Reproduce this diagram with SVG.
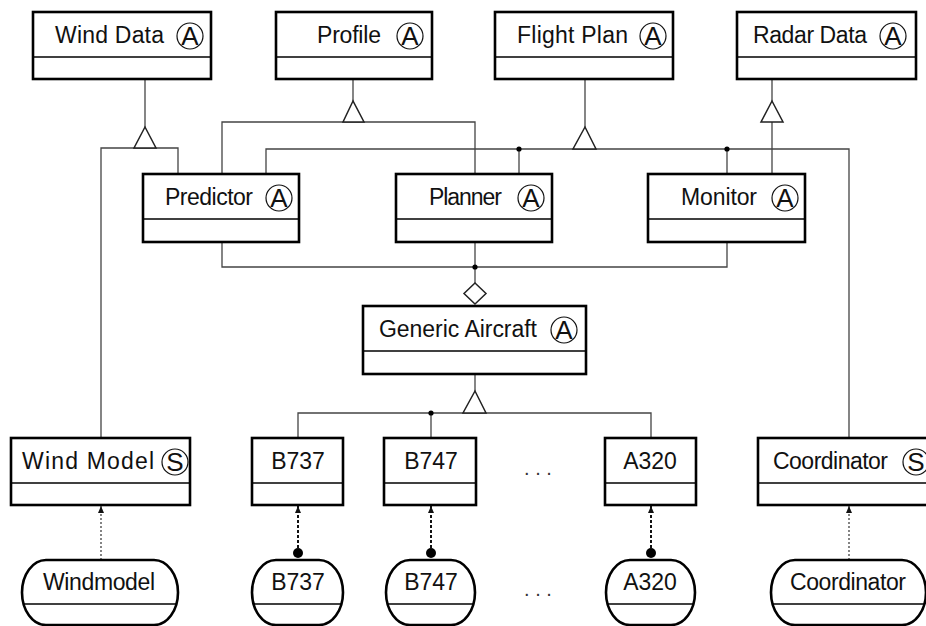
<svg xmlns="http://www.w3.org/2000/svg" width="926" height="626" viewBox="0 0 926 626">
<defs>
<style>
.box{fill:#fff;stroke:#000;stroke-width:2.6}
.div{stroke:#000;stroke-width:1.4}
.t{font-family:"Liberation Sans",Arial,sans-serif;font-size:23px;fill:#111}
.c{fill:none;stroke:#111;stroke-width:1.2}
.cl{font-family:"Liberation Sans",Arial,sans-serif;font-size:26px;fill:#111;text-anchor:middle}
.ln{fill:none;stroke:#444;stroke-width:1.3}
.tri{fill:#fff;stroke:#222;stroke-width:1.5}
.dot{fill:#000}
.dep{fill:none;stroke:#333;stroke-width:1.2;stroke-dasharray:2 2}
.dep2{fill:none;stroke:#111;stroke-width:2;stroke-dasharray:3 2}
.dots{font-family:"Liberation Sans",Arial,sans-serif;font-size:20px;fill:#333;text-anchor:middle}
</style>
<marker id="ah" viewBox="0 0 7 6" refX="7" refY="3" markerWidth="7" markerHeight="6" markerUnits="userSpaceOnUse" orient="auto">
<path d="M0,0 L7,3 L0,6 Z" fill="#111"/>
</marker>
</defs>

<g id="connectors">
<path class="ln" d="M145,79 V127"/>
<path class="ln" d="M101,438 V148 H178 V174"/>
<polygon class="tri" points="145,127 134,148 156,148"/>
<path class="ln" d="M353,79 V101"/>
<path class="ln" d="M222,174 V122 H475 V174"/>
<polygon class="tri" points="353,101 343,122 364,122"/>
<path class="ln" d="M585,79 V127"/>
<path class="ln" d="M266,174 V149 H849 V438"/>
<path class="ln" d="M519,149 V174"/>
<path class="ln" d="M727,149 V174"/>
<circle class="dot" cx="519" cy="149" r="2.6"/>
<circle class="dot" cx="727" cy="149" r="2.6"/>
<polygon class="tri" points="585,127 573,149 596,149"/>
<path class="ln" d="M772,79 V101"/>
<path class="ln" d="M772,122 V174"/>
<polygon class="tri" points="772,101 761,122 783,122"/>
<path class="ln" d="M222,242 V267 H727 V242"/>
<path class="ln" d="M475,242 V283"/>
<circle class="dot" cx="475" cy="267" r="2.6"/>
<polygon class="tri" points="475,283 486,293.5 475,304 464,293.5"/>
<path class="ln" d="M475,374 V391"/>
<path class="ln" d="M298,438 V413 H651 V438"/>
<path class="ln" d="M431,413 V438"/>
<circle class="dot" cx="431" cy="413" r="2.6"/>
<polygon class="tri" points="475,391 463,413 486,413"/>
<path class="dep" d="M101,560 V506" marker-end="url(#ah)"/>
<path class="dep2" d="M298,553 V506" marker-end="url(#ah)"/>
<circle class="dot" cx="298" cy="553" r="5"/>
<path class="dep2" d="M431,553 V506" marker-end="url(#ah)"/>
<circle class="dot" cx="431" cy="553" r="5"/>
<path class="dep2" d="M651,553 V506" marker-end="url(#ah)"/>
<circle class="dot" cx="651" cy="553" r="5"/>
<path class="dep" d="M849,560 V506" marker-end="url(#ah)"/>
</g>

<g id="wind-data">
<rect class="box" x="33" y="12" width="178" height="67"/>
<line class="div" x1="33" y1="57" x2="211" y2="57"/>
<text class="t" x="55" y="43" textLength="109">Wind Data</text>
<circle class="c" cx="190" cy="36" r="13"/><text class="cl" x="190" y="45.3">A</text>
</g>
<g id="profile">
<rect class="box" x="276" y="12" width="156" height="67"/>
<line class="div" x1="276" y1="57" x2="432" y2="57"/>
<text class="t" x="317" y="43" textLength="64">Profile</text>
<circle class="c" cx="410" cy="36" r="13"/><text class="cl" x="410" y="45.3">A</text>
</g>
<g id="flight-plan">
<rect class="box" x="495" y="12" width="178" height="67"/>
<line class="div" x1="495" y1="57" x2="673" y2="57"/>
<text class="t" x="517" y="43" textLength="111">Flight Plan</text>
<circle class="c" cx="653" cy="36" r="13"/><text class="cl" x="653" y="45.3">A</text>
</g>
<g id="radar-data">
<rect class="box" x="737" y="12" width="179" height="67"/>
<line class="div" x1="737" y1="57" x2="916" y2="57"/>
<text class="t" x="753" y="43" textLength="114">Radar Data</text>
<circle class="c" cx="893" cy="36" r="13"/><text class="cl" x="893" y="45.3">A</text>
</g>

<g id="predictor">
<rect class="box" x="143" y="174" width="156" height="68"/>
<line class="div" x1="143" y1="219" x2="299" y2="219"/>
<text class="t" x="165" y="205" textLength="88">Predictor</text>
<circle class="c" cx="279" cy="198" r="13"/><text class="cl" x="279" y="207.3">A</text>
</g>
<g id="planner">
<rect class="box" x="396" y="174" width="156" height="68"/>
<line class="div" x1="396" y1="219" x2="552" y2="219"/>
<text class="t" x="429" y="205" textLength="73">Planner</text>
<circle class="c" cx="531" cy="198" r="13"/><text class="cl" x="531" y="207.3">A</text>
</g>
<g id="monitor">
<rect class="box" x="648" y="174" width="157" height="68"/>
<line class="div" x1="648" y1="219" x2="805" y2="219"/>
<text class="t" x="681" y="205" textLength="76">Monitor</text>
<circle class="c" cx="785" cy="198" r="13"/><text class="cl" x="785" y="207.3">A</text>
</g>

<g id="generic-aircraft">
<rect class="box" x="363" y="306" width="223" height="68"/>
<line class="div" x1="363" y1="351" x2="586" y2="351"/>
<text class="t" x="379" y="337" textLength="158">Generic Aircraft</text>
<circle class="c" cx="564" cy="330" r="13"/><text class="cl" x="564" y="339.3">A</text>
</g>

<g id="wind-model">
<rect class="box" x="11" y="438" width="179" height="67"/>
<line class="div" x1="11" y1="483" x2="190" y2="483"/>
<text class="t" x="22" y="469" textLength="132">Wind Model</text>
<circle class="c" cx="175" cy="462" r="13"/><text class="cl" x="175" y="471.3">S</text>
</g>
<g id="b737">
<rect class="box" x="252" y="438" width="91" height="67"/>
<line class="div" x1="252" y1="483" x2="343" y2="483"/>
<text class="t" x="298" y="469" text-anchor="middle">B737</text>
</g>
<g id="b747">
<rect class="box" x="384" y="438" width="92" height="67"/>
<line class="div" x1="384" y1="483" x2="476" y2="483"/>
<text class="t" x="431" y="469" text-anchor="middle">B747</text>
</g>
<text class="dots" x="538" y="475">. . .</text>
<g id="a320">
<rect class="box" x="605" y="438" width="91" height="67"/>
<line class="div" x1="605" y1="483" x2="696" y2="483"/>
<text class="t" x="650" y="469" text-anchor="middle">A320</text>
</g>
<g id="coordinator">
<rect class="box" x="758" y="438" width="175" height="67"/>
<line class="div" x1="758" y1="483" x2="933" y2="483"/>
<text class="t" x="773" y="469" textLength="115">Coordinator</text>
<circle class="c" cx="916" cy="462" r="13"/><text class="cl" x="916" y="471.3">S</text>
</g>

<g id="windmodel-obj">
<rect class="box" x="22" y="560" width="156" height="65" rx="24" ry="32.5"/>
<line class="div" x1="24" y1="604" x2="176" y2="604"/>
<text class="t" x="43" y="590" textLength="112">Windmodel</text>
</g>
<g id="b737-obj">
<rect class="box" x="252" y="560" width="91" height="65" rx="24" ry="32.5"/>
<line class="div" x1="254" y1="604" x2="341" y2="604"/>
<text class="t" x="298" y="590" text-anchor="middle">B737</text>
</g>
<g id="b747-obj">
<rect class="box" x="386" y="560" width="89" height="65" rx="24" ry="32.5"/>
<line class="div" x1="388" y1="604" x2="473" y2="604"/>
<text class="t" x="431" y="590" text-anchor="middle">B747</text>
</g>
<text class="dots" x="538" y="596">. . .</text>
<g id="a320-obj">
<rect class="box" x="606" y="560" width="89" height="65" rx="24" ry="32.5"/>
<line class="div" x1="608" y1="604" x2="693" y2="604"/>
<text class="t" x="650" y="590" text-anchor="middle">A320</text>
</g>
<g id="coordinator-obj">
<rect class="box" x="771" y="560" width="155" height="65" rx="24" ry="32.5"/>
<line class="div" x1="773" y1="604" x2="924" y2="604"/>
<text class="t" x="790" y="590" textLength="116">Coordinator</text>
</g>
</svg>
